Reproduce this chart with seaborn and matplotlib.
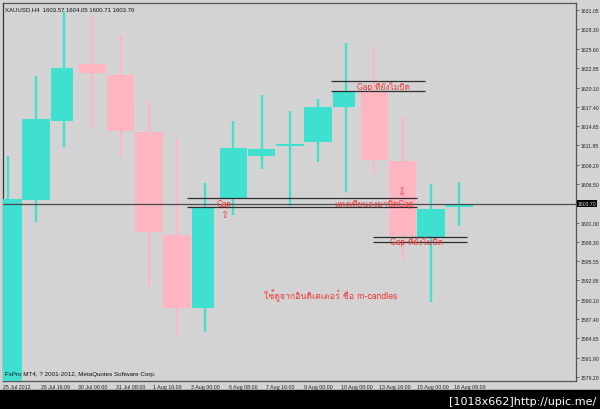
import numpy as np
import pandas as pd
import matplotlib
matplotlib.use("Agg")
import matplotlib.pyplot as plt
import seaborn as sns
from matplotlib import font_manager, ft2font

# ---------------- data ----------------
days = ["25 Jul", "26 Jul", "27 Jul", "30 Jul", "31 Jul", "1 Aug", "2 Aug", "3 Aug",
        "6 Aug", "7 Aug", "8 Aug", "9 Aug", "10 Aug", "13 Aug", "14 Aug", "15 Aug", "16 Aug"]
weekday = ["Wed", "Thu", "Fri", "Mon", "Tue", "Wed", "Thu", "Fri",
           "Mon", "Tue", "Wed", "Thu", "Fri", "Mon", "Tue", "Wed", "Thu"]
opens = [1577.0, 1604.21, 1615.37, 1623.42, 1621.87, 1613.81, 1599.26, 1588.95,
         1604.49, 1610.42, 1611.98, 1612.40, 1617.35, 1619.61, 1609.72, 1598.98, 1603.22]
highs = [1610.42, 1621.72, 1630.91, 1630.20, 1627.66, 1618.19, 1612.82, 1606.61,
         1615.37, 1619.04, 1616.78, 1618.48, 1626.39, 1625.82, 1616.07, 1606.47, 1606.75]
lows = [1576.0, 1601.10, 1611.69, 1614.52, 1610.28, 1592.06, 1584.85, 1585.56,
        1602.09, 1608.59, 1603.36, 1609.57, 1605.34, 1607.88, 1595.59, 1589.80, 1600.53]
closes = [1604.40, 1615.65, 1622.86, 1622.15, 1613.96, 1599.69, 1588.95, 1603.22,
          1611.55, 1611.41, 1611.98, 1617.35, 1619.61, 1609.86, 1599.12, 1602.93, 1603.70]

current_price = 1603.70
header = "XAUUSD,H4  1603.57 1604.05 1600.71 1603.70"
footer = "FxPro MT4, ? 2001-2012, MetaQuotes Software Corp."
watermark = "[1018x662]http://upic.me/"

price_ticks = ["1631.05", "1628.30", "1625.60", "1622.85", "1620.10", "1617.40", "1614.65",
               "1611.95", "1609.20", "1606.50", "1601.00", "1598.30", "1595.55",
               "1592.85", "1590.10", "1587.40", "1584.65", "1581.90", "1579.20"]
time_ticks = ["25 Jul 2012", "26 Jul 16:00", "30 Jul 00:00", "31 Jul 08:00", "1 Aug 16:00",
              "3 Aug 00:00", "6 Aug 08:00", "7 Aug 16:00", "9 Aug 00:00", "10 Aug 08:00",
              "13 Aug 16:00", "15 Aug 00:00", "16 Aug 08:00"]

# gaps: (from day-time, to day-time, upper price, lower price)
gap_start = [6.86, 11.96, 13.45]
gap_end = [15.01, 15.30, 16.79]
gap_hi = [1604.49, 1621.02, 1598.98]
gap_lo = [1603.22, 1619.61, 1598.27]

txt_gap = "Gap"
txt_closed = "แท่งเทียนลงมาปิดGap"
txt_open = "Gap ที่ยังไม่ปิด"
txt_note = "ใช้ดูจากอินดิเคเตอร์ ชื่อ m-candles"

df = pd.DataFrame({"day": days, "wd": weekday, "open": opens, "high": highs,
                   "low": lows, "close": closes})
df["i"] = np.arange(len(df))

# ---------------- style ----------------
sns.set_style("white")
BG = "#D3D3D3"
plt.rcParams["figure.facecolor"] = BG
plt.rcParams["axes.facecolor"] = BG

thai = None
for f in font_manager.fontManager.ttflist:
    try:
        cm = ft2font.FT2Font(f.fname).get_charmap()
        if 0x0E17 in cm and 0x0E1B in cm:
            thai = f.name
            break
    except Exception:
        pass
fam_thai = [thai, "DejaVu Sans"] if thai else ["DejaVu Sans"]
plt.rcParams["font.family"] = ["Liberation Sans", "DejaVu Sans"]

GREEN = "#40E0D0"
PINK = "#FFB6C1"
RED = "#F03C3C"

fig = plt.figure(figsize=(6, 4.1), dpi=100)
ax = fig.add_axes([3 / 600, 1 - 382 / 410, 573 / 600, 378 / 410])

# wicks + bodies
for _, r in df.iterrows():
    col = GREEN if r["close"] >= r["open"] else PINK
    x = r["i"]
    ax.vlines(x + 0.5, r["low"], r["high"], color=col, lw=1.6, zorder=2)
    w = 0.80 if r["wd"] == "Fri" else 0.97
    h = r["close"] - r["open"]
    if abs(h) < 0.25:
        h = 0.25
        bottom = r["close"] - 0.125
    else:
        bottom = r["open"]
    ax.bar(x + 0.02, h, bottom=bottom, width=w, align="edge", color=col,
           linewidth=0, zorder=3)

# current price line
ax.axhline(current_price, color="#4a4a4a", lw=0.9, zorder=4)

# gap lines
for s, e, hi, lo in zip(gap_start, gap_end, gap_hi, gap_lo):
    ax.hlines([hi, lo], s, e, color="#2e2e2e", lw=0.9, zorder=5)

# annotations
ax.text(8.17, 1603.78, txt_gap, color=RED, fontsize=6, ha="center", va="center",
        family=fam_thai, zorder=6)
ax.text(8.17, 1602.2, "⇧", color=RED, fontsize=7, ha="center", va="center",
        family=["DejaVu Sans"], zorder=6)
ax.text(13.49, 1603.78, txt_closed, color=RED, fontsize=6, ha="center", va="center",
        family=fam_thai, zorder=6)
ax.text(14.45, 1605.4, "⇩", color=RED, fontsize=7, ha="center", va="center",
        family=["DejaVu Sans"], zorder=6)
ax.text(13.81, 1620.31, txt_open, color=RED, fontsize=6, ha="center", va="center",
        family=fam_thai, zorder=6)
ax.text(14.98, 1598.5, txt_open, color=RED, fontsize=6, ha="center", va="center",
        family=fam_thai, zorder=6)
ax.text(11.96, 1590.78, txt_note, color=RED, fontsize=6.3, ha="center", va="center",
        family=fam_thai, zorder=6)

# axes limits
ax.set_xlim(2 / 6, 20.65)
ax.set_ylim(1578.63, 1632.04)

# right price scale
ax.yaxis.tick_right()
yt = [float(v) for v in price_ticks]
ax.set_yticks(yt)
ax.set_yticklabels(price_ticks)
ax.tick_params(axis="y", direction="out", length=2, width=0.6, color="#555555",
               labelsize=3.7, labelcolor="#222222", pad=1)
ax.text(1.0035, current_price, f"{current_price:.2f}", transform=ax.get_yaxis_transform(),
        fontsize=3.7, color="#dddddd", va="center", ha="left",
        bbox=dict(boxstyle="square,pad=0.15", fc="black", ec="none"), clip_on=False)

# time scale (every 8 H4 bars, starting at bar 2)
xt = [(2 + 8 * k) / 6 for k in range(len(time_ticks))]
ax.set_xticks(xt)
ax.set_xticklabels(time_ticks, ha="left")
ax.tick_params(axis="x", direction="out", length=2, width=0.6, color="#555555",
               labelsize=3.8, labelcolor="#222222", pad=0.3)

for side in ["left", "top", "right", "bottom"]:
    ax.spines[side].set_color("#555555")
    ax.spines[side].set_linewidth(0.9)
ax.spines["left"].set_color("#333333")

# header / footer
ax.text(0.004, 0.992, header, transform=ax.transAxes, fontsize=4.3, color="#111111",
        ha="left", va="top")
ax.text(0.004, 0.012, footer, transform=ax.transAxes, fontsize=4.5, color="#111111",
        ha="left", va="bottom")

# bottom black band with watermark
fig.patches.append(plt.Rectangle((0, 0), 1, 19 / 410, transform=fig.transFigure,
                                 color="black", zorder=10))
fig.text(0.993, 8 / 410, watermark, color="white", fontsize=8, ha="right",
         va="center", zorder=11, family=["DejaVu Sans"])

fig.savefig("out.png", dpi=100, facecolor=BG)
